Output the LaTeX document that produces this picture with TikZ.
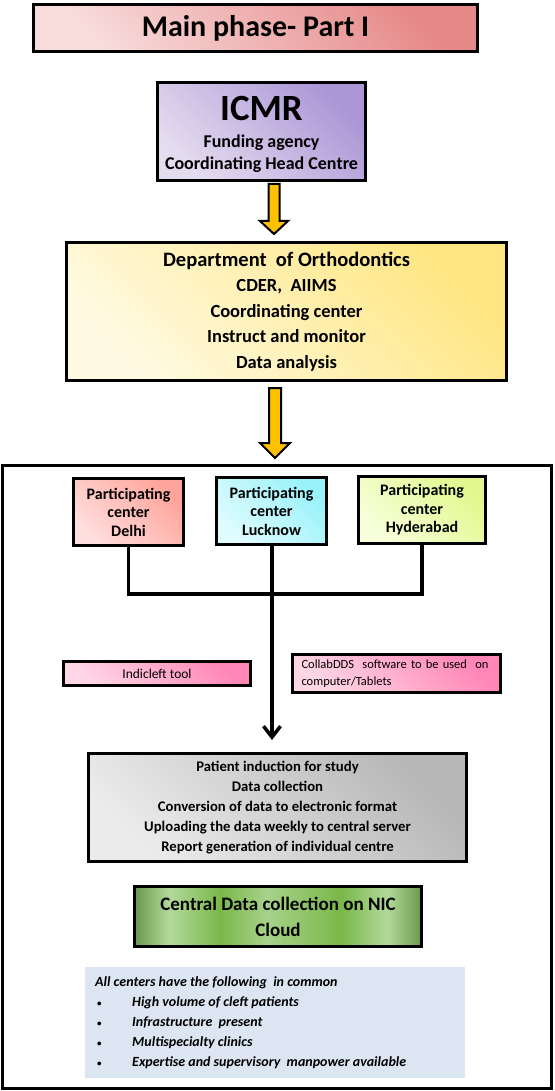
\documentclass[tikz,border=0pt]{standalone}
\usepackage{fontspec}
\setmainfont{Carlito}
\usetikzlibrary{arrows.meta}
\definecolor{titleA}{HTML}{F8DCDC}\definecolor{titleB}{HTML}{E68888}
\definecolor{icmrA}{HTML}{E4DCEF}\definecolor{icmrB}{HTML}{AC96D6}
\definecolor{deptA}{HTML}{FFFAE2}\definecolor{deptB}{HTML}{FFE682}
\definecolor{delA}{HTML}{FFDEDE}\definecolor{delB}{HTML}{FFA49A}
\definecolor{luckA}{HTML}{E0FCFF}\definecolor{luckB}{HTML}{98F2FA}
\definecolor{hydA}{HTML}{F7FFDA}\definecolor{hydB}{HTML}{E2F88E}
\definecolor{pinkA}{HTML}{FFD6E5}\definecolor{pinkB}{HTML}{FF86B5}
\definecolor{grayA}{HTML}{EBEBEB}\definecolor{grayB}{HTML}{B7B7B7}
\definecolor{blueBox}{HTML}{DCE6F2}
\definecolor{arrowY}{HTML}{FFC000}
\definecolor{gD}{HTML}{6A984E}\definecolor{gL}{HTML}{B2D99A}\definecolor{gM}{HTML}{7AB84A}
\pgfdeclarehorizontalshading{greenband}{100bp}{color(0bp)=(gD); color(25bp)=(gD); color(31bp)=(gL); color(40bp)=(gM); color(48bp)=(gL!80!gM); color(61bp)=(gM); color(69bp)=(gL); color(75bp)=(gD); color(100bp)=(gD)}
\newcommand{\smallbul}{\makebox[37pt][l]{\hspace{2pt}{\upshape\fontsize{9}{9}\selectfont\textbullet}}}
\tikzset{
  box/.style={draw=black, line width=3pt, inner sep=0pt, align=center},
  diag/.style 2 args={top color=#2, bottom color=#1, shading angle=-45},
  txt/.style={inner sep=0pt, anchor=base},
  conn/.style={draw=black, line width=3.5pt},
  blockarrow/.style={draw=black, line width=2pt, fill=arrowY, line join=miter},
}
\begin{document}
\begin{tikzpicture}[x=1pt,y=-1pt]
\useasboundingbox[fill=white] (0,0) rectangle (554,1091);

% title
\node[box, line width=3.5pt, diag={titleA}{titleB}, minimum width=444pt, minimum height=47pt,
      font=\fontsize{30}{36}\selectfont\bfseries] (title) at (255.5,28) {Main phase- Part I};

% ICMR
\node[box, diag={icmrA}{icmrB}, minimum width=208pt, minimum height=98pt] (icmr) at (261.5,131.5) {};
\node[txt, font=\fontsize{37}{40}\selectfont\bfseries] (icmrT) at (261.5,121) {ICMR};
\node[txt, font=\fontsize{18}{22}\selectfont\bfseries] (icmrF) at (261.5,148) {Funding agency};
\node[txt, font=\fontsize{18}{22}\selectfont\bfseries] (icmrC) at (261.5,170) {Coordinating Head Centre};

% arrow 1
\draw[blockarrow] (268.5,184) -- (279.5,184) -- (279.5,221) -- (288,221) -- (274,234) -- (260,221) -- (268.5,221) -- cycle;

% Dept
\node[box, diag={deptA}{deptB}, minimum width=440pt, minimum height=138pt,
      font=\fontsize{18.5}{25.5}\selectfont\bfseries] (dept) at (286.5,311.5)
  {{\fontsize{20.5}{25.5}\selectfont Department\ \ of Orthodontics}\\CDER,\ \ AIIMS\\Coordinating center\\Instruct and monitor\\Data analysis};

% arrow 2
\draw[blockarrow] (269,388) -- (281,388) -- (281,443) -- (290,443) -- (275,458) -- (260,443) -- (269,443) -- cycle;

% outer frame
\node[draw=black, line width=3pt, inner sep=0pt, minimum width=549pt, minimum height=623pt] (frame) at (277,776.5) {};

% participating centers
\node[box, diag={delA}{delB}, minimum width=110pt, minimum height=67pt,
      font=\fontsize{16}{18.5}\selectfont\bfseries] (delhi) at (128.5,512) {Participating\\center\\Delhi};
\node[box, diag={luckA}{luckB}, minimum width=110pt, minimum height=67pt,
      font=\fontsize{16}{18.5}\selectfont\bfseries] (lucknow) at (271.5,511) {Participating\\center\\Lucknow};
\node[box, diag={hydA}{hydB}, minimum width=127pt, minimum height=67pt,
      font=\fontsize{16}{18.5}\selectfont\bfseries] (hyd) at (422,510) {Participating\\center\\Hyderabad};

% tools
\node[box, diag={pinkA}{pinkB}, minimum width=187pt, minimum height=24pt,
      font=\fontsize{13.5}{16}\selectfont] (indi) at (157,673.5) {Indicleft tool};
\node[box, diag={pinkA}{pinkB}, minimum width=208pt, minimum height=38pt, align=left,
      text width=190pt, inner xsep=9pt, font=\fontsize{12.5}{17}\selectfont] (collab) at (396.5,673.5)
  {CollabDDS\ \ software to be used\ \ on\\computer/Tablets};

% gray process box
\node[box, diag={grayA}{grayB}, minimum width=378pt, minimum height=108pt,
      font=\fontsize{14.7}{20}\selectfont\bfseries] (proc) at (277.5,807.5)
  {Patient induction for study\\Data collection\\Conversion of data to electronic format\\Uploading the data weekly to central server\\Report generation of individual centre};

% green box
\node[box, shading=greenband, minimum width=287pt, minimum height=60pt,
      font=\fontsize{19}{26}\selectfont\bfseries] (nic) at (278,916.5)
  {Central Data collection on NIC\\Cloud};

% blue list
\node[fill=blueBox, inner sep=0pt, minimum width=380pt, minimum height=111pt] (common) at (275,1022.5) {};
\node[inner sep=0pt, anchor=west, align=left, font=\fontsize{14}{20}\selectfont\bfseries\itshape] (commonT) at (95,1022.5)
  {All centers have the following\ \ in common\\
   \smallbul High volume of cleft patients\\
   \smallbul Infrastructure\ \ present\\
   \smallbul Multispecialty clinics\\
   \smallbul Expertise and supervisory\ \ manpower available};

% connectors
\coordinate (bus) at (272,594);
\draw[conn] (delhi.south) |- (bus) -| (hyd.south);
\draw[conn, -{Straight Barb[length=11pt,width=17pt]}, shorten >=12pt] ([xshift=0.5pt]lucknow.south) -- ([xshift=0.5pt]lucknow.south |- proc.north);
\end{tikzpicture}
\end{document}
